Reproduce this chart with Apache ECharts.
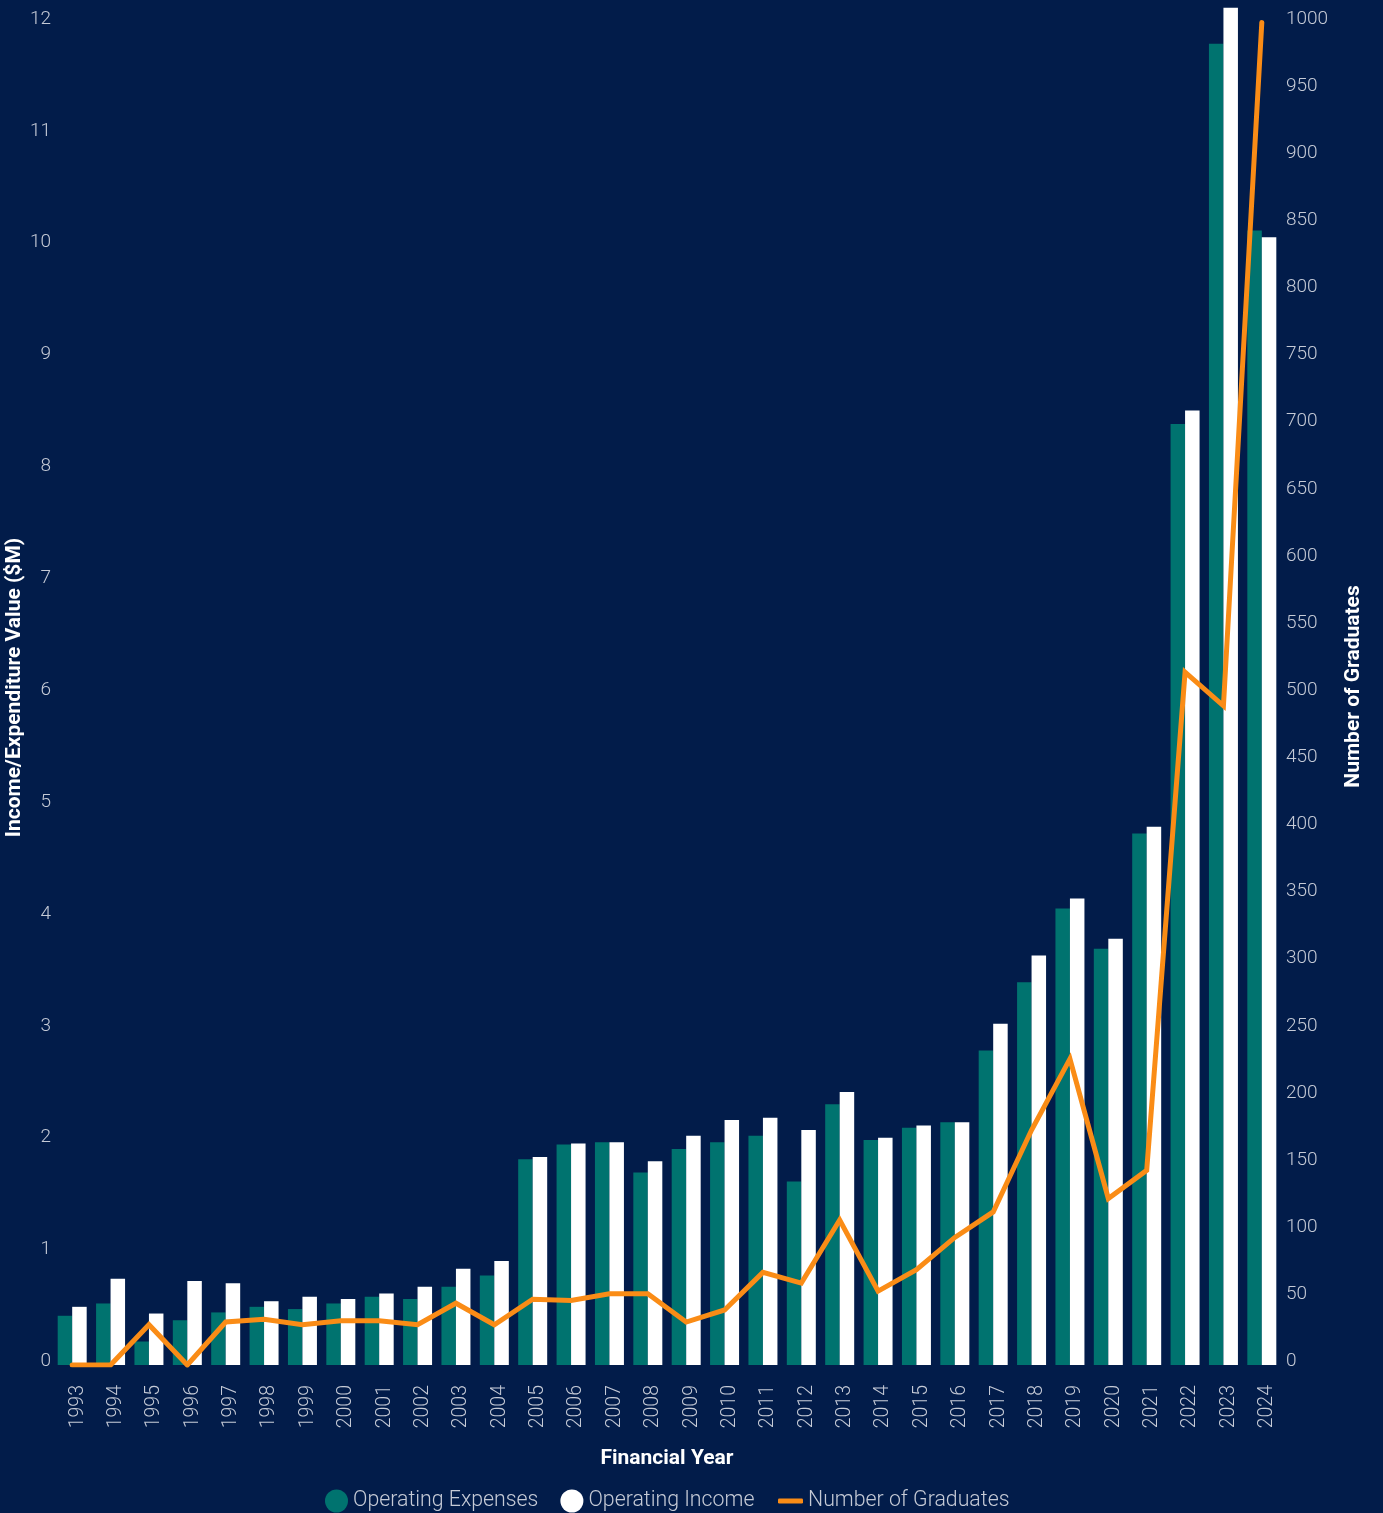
<!DOCTYPE html>
<html>
<head>
<meta charset="utf-8">
<script src="https://cdn.jsdelivr.net/npm/echarts@6/dist/echarts.min.js"></script>
<style>
html,body{margin:0;padding:0;background:#021C4A;}
#chart{width:1383px;height:1513px;}
</style>
</head>
<body>
<div id="chart"></div>
<script>
const years = ['1993','1994','1995','1996','1997','1998','1999','2000','2001','2002','2003','2004','2005','2006','2007','2008','2009','2010','2011','2012','2013','2014','2015','2016','2017','2018','2019','2020','2021','2022','2023','2024'];
const operatingExpenses = [0.44,0.55,0.21,0.40,0.47,0.52,0.50,0.55,0.61,0.59,0.70,0.80,1.84,1.97,1.99,1.72,1.93,1.99,2.05,1.64,2.33,2.01,2.12,2.17,2.81,3.42,4.08,3.72,4.75,8.41,11.81,10.14];
const operatingIncome = [0.52,0.77,0.46,0.75,0.73,0.57,0.61,0.59,0.64,0.70,0.86,0.93,1.86,1.98,1.99,1.82,2.05,2.19,2.21,2.10,2.44,2.03,2.14,2.17,3.05,3.66,4.17,3.81,4.81,8.53,12.13,10.08];
const graduates = [0,0,30,0,32,34,30,33,33,30,46,30,49,48,53,53,32,41,69,61,108,55,71,95,114,175,228,124,145,516,491,1000];

const labelColor = '#C5CAD6';
const fontFam = 'Roboto, "DejaVu Sans", sans-serif';
const legendText = {color: labelColor, fontFamily: fontFam, fontWeight: 300, fontSize: 21.3, lineHeight: 24};

const chart = echarts.init(document.getElementById('chart'));
chart.setOption({
  backgroundColor: '#021C4A',
  animation: false,
  grid: {left: 53, right: 102, top: 0, bottom: 148, containLabel: false, outerBoundsMode: 'none'},
  legend: [
    {
      left: 325, top: 1489, padding: 0, itemGap: 22, itemWidth: 23, itemHeight: 23,
      textStyle: legendText,
      data: [
        {name: 'Operating Expenses', icon: 'circle', itemStyle: {color: '#00736F'}},
        {name: 'Operating Income', icon: 'circle', itemStyle: {color: '#FFFFFF'}}
      ]
    },
    {
      left: 778, top: 1489, padding: 0, itemWidth: 25, itemHeight: 5,
      textStyle: legendText,
      data: [{name: 'Number of Graduates', icon: 'roundRect', itemStyle: {color: '#FA8C16'}}]
    }
  ],
  xAxis: {
    type: 'category', data: years,
    axisLine: {show: false}, axisTick: {show: false},
    axisLabel: {rotate: 90, color: labelColor, fontFamily: fontFam, fontWeight: 300, fontSize: 19.5, margin: 20, interval: 0,
      verticalAlign: 'top', lineHeight: 11},
    name: 'Financial Year', nameLocation: 'middle', nameGap: 83,
    nameTextStyle: {color: '#FFFFFF', fontFamily: fontFam, fontWeight: 'bold', fontSize: 21}
  },
  yAxis: [
    {
      type: 'value', min: 0, max: 12.2, interval: 1,
      splitLine: {show: false}, axisLine: {show: false}, axisTick: {show: false},
      axisLabel: {color: labelColor, fontFamily: fontFam, fontWeight: 300, fontSize: 19, margin: 2,
        verticalAlign: 'bottom', lineHeight: 7,
        formatter: v => Number.isInteger(v) ? String(v) : ''},
      name: 'Income/Expenditure Value ($M)', nameLocation: 'middle', nameGap: 28, nameMoveOverlap: false,
      nameTextStyle: {color: '#FFFFFF', fontFamily: fontFam, fontWeight: 'bold', fontSize: 21, padding: [0, 10, 0, 0]}
    },
    {
      type: 'value', min: 0, max: 1016.67, interval: 50,
      splitLine: {show: false}, axisLine: {show: false}, axisTick: {show: false},
      axisLabel: {color: labelColor, fontFamily: fontFam, fontWeight: 300, fontSize: 19, margin: 5,
        verticalAlign: 'bottom', lineHeight: 7,
        formatter: v => (v % 50 === 0) ? String(v) : ''},
      name: 'Number of Graduates', nameLocation: 'middle', nameGap: 62, nameRotate: 90, nameMoveOverlap: false,
      nameTextStyle: {color: '#FFFFFF', fontFamily: fontFam, fontWeight: 'bold', fontSize: 21, padding: [0, 8, 0, 0]}
    }
  ],
  series: [
    {name: 'Operating Expenses', type: 'bar', data: operatingExpenses, barWidth: 14.5, barGap: '0%', itemStyle: {color: '#00736F'}},
    {name: 'Operating Income', type: 'bar', data: operatingIncome, barWidth: 14.5, barGap: '0%', itemStyle: {color: '#FFFFFF'}},
    {name: 'Number of Graduates', type: 'line', yAxisIndex: 1, data: graduates, showSymbol: false, symbol: 'none',
      lineStyle: {color: '#FA8C16', width: 5, cap: 'round', join: 'miter'}, itemStyle: {color: '#FA8C16'}}
  ]
});
</script>
</body>
</html>
